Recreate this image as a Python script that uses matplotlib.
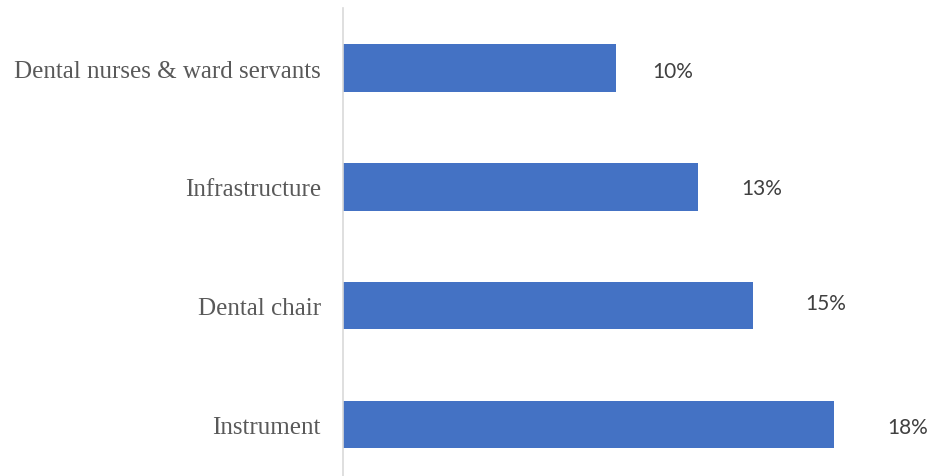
import numpy as np
import matplotlib
matplotlib.use('Agg')
import matplotlib.pyplot as plt

categories = ['Instrument', 'Dental chair', 'Infrastructure', 'Dental nurses & ward servants']
values = [18, 15, 13, 10]
value_labels = ['18%', '15%', '13%', '10%']

# label offsets from the bar end, in points (labels were nudged a bit in the original)
label_dx = [38, 38, 31, 26]
label_dy = [-2, 2, -1, -2]

fig = plt.figure(figsize=(9.31, 4.77), dpi=100)
ax = fig.add_axes([343 / 931, 0, 1 - 343 / 931, 468 / 477])

y = np.arange(len(categories))
ax.barh(y, values, height=0.40, color='#4472C4')

for yi, v, lab, dx, dy in zip(y, values, value_labels, label_dx, label_dy):
    ax.annotate(lab, (v, yi), xytext=(dx, dy), textcoords='offset points',
                ha='left', va='center', fontsize=15, color='#404040',
                family='Lato', annotation_clip=False)

ax.set_xlim(0, 588 / 27.3)
ax.set_ylim(-0.434, 3.505)
ax.set_yticks(y)
ax.set_yticklabels(categories, family='Liberation Serif', fontsize=18, color='#595959')
ax.tick_params(axis='y', length=0, pad=16)
ax.set_xticks([])

for s in ['top', 'right', 'bottom']:
    ax.spines[s].set_visible(False)
ax.spines['left'].set_color('#D9D9D9')
ax.spines['left'].set_linewidth(1.2)

fig.savefig('out.png', dpi=100)
